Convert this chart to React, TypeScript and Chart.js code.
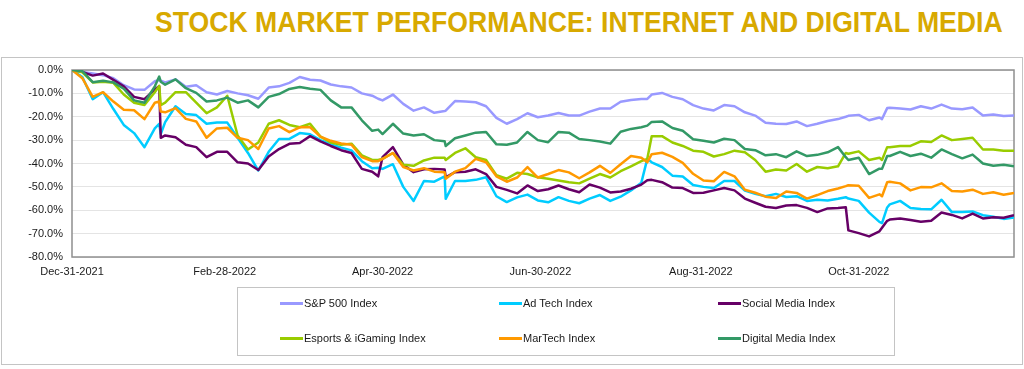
import React, { useEffect, useLayoutEffect, useRef } from "react";
import { Chart, registerables } from "chart.js";

Chart.register(...registerables);

const TITLE = "STOCK MARKET PERFORMANCE: INTERNET AND DIGITAL MEDIA";

// x values: days elapsed since Dec-31-2021
const days = [
  0, 4, 8, 12, 16, 20, 24, 28, 32, 33.7,
  34.3, 36, 40, 44, 48, 52, 56, 60, 64, 68,
  72, 76, 80, 84, 88, 92, 96, 100, 104, 108,
  112, 116, 118.3, 120, 124, 128, 132, 136, 140, 144,
  144.4, 148, 152, 156, 160, 164, 168, 172, 176, 180,
  184, 188, 192, 196, 200, 204, 208, 212, 216, 220,
  222.3, 224, 228, 232, 236, 240, 244, 248, 252, 256,
  260, 264, 268, 272, 276, 280, 284, 288, 292, 296,
  299, 300, 304, 308, 312, 313, 315, 316, 320, 324,
  328, 332, 336, 340, 344, 348, 352, 356, 360, 364,
];

const tickDays = [0, 59, 120, 181, 243, 304];
const tickLabels = ["Dec-31-2021", "Feb-28-2022", "Apr-30-2022", "Jun-30-2022", "Aug-31-2022", "Oct-31-2022"];

const seriesNames = [
  "S&P 500 Index",
  "Ad Tech Index",
  "Social Media Index",
  "Esports & iGaming Index",
  "MarTech Index",
  "Digital Media Index",
];
const seriesColors = ["#9999ff", "#00ccff", "#660066", "#99cc00", "#ff9900", "#339966"];

const sp500 = [
  0, -0.8, -1.5, -2.2, -3.5, -6.5, -8.3, -8.5, -4.8, -4.3,
  -4.6, -5.3, -4, -7.2, -6.5, -9.5, -10.5, -9, -10, -10.8,
  -12.3, -7.5, -7, -5.5, -3, -4.2, -4.5, -6.2, -7, -7.5,
  -10, -11, -12.3, -13, -10.5, -14.5, -17.4, -16, -18.3, -17.5,
  -17.4, -13.3, -13.5, -13.8, -15.5, -20.5, -23, -21, -18.5, -20.2,
  -19.5, -18.4, -19.5, -19.5, -17.8, -16.5, -16.5, -13.6, -12.8, -12.4,
  -12.4, -10.5, -9.8, -11.5, -12.5, -15, -16.5, -17.3, -15, -15.5,
  -18.1, -19.5, -22.6, -23, -23.1, -22, -24, -23, -21.8, -21,
  -20, -19.6, -19.2, -21.5, -20.3, -21, -16.3, -16.2, -16.5, -16.9,
  -15.5, -16.5, -14.8, -16.5, -16.8, -16, -19.5, -19, -19.7, -19.5,
];

const adTech = [
  0, -3, -12.5, -9.5, -16.7, -23.5, -27, -33, -25, -23,
  -27.4, -22.3, -15.5, -18.8, -19.3, -23, -22.5, -22.5, -29, -35.5,
  -43, -35, -29.5, -29.5, -27, -27.5, -30, -31.7, -33.2, -34.4,
  -39, -42, -41.8, -42.3, -40.3, -50, -56, -47.5, -47.8, -45.5,
  -55.1, -47.5, -47.5, -47, -45.9, -54, -56.5, -54.5, -53.3, -55.8,
  -56.6, -54.4, -56, -57, -55, -53.5, -56, -54.2, -51.5, -48.2,
  -38, -39.5, -41.5, -45.2, -45.6, -49.2, -50, -50.5, -47.5, -47.5,
  -51.6, -53, -54, -53, -54.3, -54, -56, -55.5, -55.8, -55.1,
  -54.4, -55, -56, -61, -65, -65.5, -58.8, -57.5, -56, -59,
  -59.5, -59.6, -55.5, -60.8, -60.8, -60.5, -62.1, -62.8, -63.7, -63.1,
];

const socialMedia = [
  0, -0.8, -2.4, -1.5, -4.2, -7, -11.5, -12.5, -8.3, -7,
  -29, -28, -28.8, -32, -33, -37.3, -35, -35, -39.5, -40,
  -42.8, -37, -33.8, -31.6, -31.2, -28.3, -30.5, -32.5, -34.3, -35.5,
  -42.3, -43.5, -45.5, -37.3, -33, -40.5, -43.7, -42.5, -42.3, -42.6,
  -45.9, -43.7, -43.5, -42.5, -44.5, -50, -51.3, -52.8, -49.4, -51.8,
  -51, -49.4, -51, -52.3, -49, -50.3, -52.4, -52, -50.8, -49,
  -47.2, -47, -48, -50.3, -50.5, -52.6, -52.5, -51.5, -50.5, -51.5,
  -55, -56.8, -58.5, -59, -58, -57.8, -59, -60.8, -59.2, -59,
  -58.7, -68.6, -69.8, -71.2, -69, -67.5, -64.5, -64, -63.5, -64.2,
  -64.9, -64.5, -61, -62, -63.5, -61.4, -63.5, -63, -63.2, -62.1,
];

const esports = [
  0, -1, -5.3, -5, -5.5, -10.5, -14, -15, -9.5, -6.8,
  -15, -14, -9.5, -9.5, -14, -18.5, -16, -11, -28, -34,
  -31, -23, -21.5, -23.5, -24.5, -23, -28.5, -31, -32, -31.5,
  -36.5, -38.5, -38.5, -38, -35.5, -40.5, -41, -38.7, -37.5, -37.5,
  -38.5, -35.5, -33.5, -37.3, -38.5, -45, -46.5, -44, -44.5, -45.9,
  -46.5, -47.3, -48, -48.5, -46.5, -44.5, -46, -43.3, -41.2, -39,
  -38, -28.3, -28.3, -31, -32.5, -34.5, -35, -37, -36, -34.5,
  -35.2, -38.5, -43.5, -42.6, -43, -40.2, -43.5, -41.5, -42, -41.2,
  -35.5, -35.8, -34.8, -38.5, -37.5, -38.5, -33, -33, -32.5, -32.5,
  -30.5, -30.8, -28, -30, -29.5, -29, -34, -34, -34.5, -34.5,
];

const marTech = [
  0, -3.5, -11.5, -9.5, -13.5, -17, -17.2, -21, -14, -13.5,
  -17.8, -18.1, -16.3, -20.9, -22, -29, -25, -24.7, -29, -30,
  -33.8, -25, -24, -26.6, -24.5, -24.5, -28.5, -30.3, -31.4, -32,
  -37.3, -39, -39, -38, -35.5, -41.5, -43, -42, -43.5, -43.7,
  -46.5, -43.5, -42, -38, -39.5, -45.5, -47.8, -46, -41.5, -46,
  -44.5, -42.8, -43.8, -46.3, -43.8, -41, -44, -40.3, -36.8, -37.5,
  -39.5, -36, -35.4, -37.2, -39.7, -44.4, -47.3, -47.6, -43.6, -45.5,
  -51.2, -52.5, -54.2, -54.8, -52, -52.6, -55, -53.5, -51.8, -50.7,
  -49.7, -49.3, -49.5, -54.7, -53.2, -54, -48, -47.8, -48.5, -51.5,
  -50.1, -50.2, -48.5, -51.8, -52, -51.2, -53, -52.3, -53.4, -52.6,
];

const digitalMedia = [
  0, -0.5, -5.2, -4.6, -5.3, -8, -13, -14, -7, -2.8,
  -5, -6.3, -4, -7.8, -9.8, -13.5, -13, -11.8, -14, -13,
  -16, -11.5, -10.3, -8.1, -7.3, -8, -8.5, -13, -16, -16,
  -21.5, -26, -25.5, -27.4, -23, -27.2, -28, -27.5, -30, -30.5,
  -32.5, -29.2, -28, -26.8, -26.5, -31.8, -32, -31, -26.5, -30,
  -30.9, -26.5, -26.8, -29.5, -30, -30.6, -31.5, -26.4, -25.2, -24.5,
  -23.8, -22.2, -22, -24.8, -26, -29.6, -30.3, -31, -29.4, -30,
  -33.8, -34.3, -36.5, -36, -37.3, -34.8, -36.8, -36.3, -35.2, -33,
  -37.3, -38.5, -37.5, -44.5, -42.2, -42.3, -36.8, -36.8, -35, -36.8,
  -35.8, -37.5, -34, -36, -37.8, -36.2, -40, -41, -40.5, -41.2,
];

const FONT = "'Liberation Sans', Arial, Helvetica, sans-serif";

const framePlugin = {
  id: "plotFrame",
  beforeDatasetsDraw(chart: any) {
    const { ctx, chartArea: a } = chart;
    ctx.save();
    ctx.strokeStyle = "#8f8f8f";
    ctx.lineWidth = 1.5;
    ctx.strokeRect(a.left, a.top, a.right - a.left, a.bottom - a.top);
    ctx.restore();
  },
};

export default function App() {
  const canvasRef = useRef<HTMLCanvasElement>(null);
  const titleRef = useRef<HTMLSpanElement>(null);

  useLayoutEffect(() => {
    document.body.style.margin = "0";
    const el = titleRef.current;
    if (el) {
      el.style.transform = "none";
      const w = el.offsetWidth;
      if (w > 0) el.style.transform = `scaleX(${848 / w})`;
    }
  }, []);

  useEffect(() => {
    const series = [sp500, adTech, socialMedia, esports, marTech, digitalMedia];
    const chart = new Chart(canvasRef.current as HTMLCanvasElement, {
      type: "line",
      data: {
        datasets: series.map((vals, i) => ({
          label: seriesNames[i],
          data: vals.map((v, j) => ({ x: days[j], y: v })),
          borderColor: seriesColors[i],
          backgroundColor: seriesColors[i],
          borderWidth: 2.5,
          pointRadius: 0,
          tension: 0,
          borderJoinStyle: "round" as const,
          order: series.length - i,
        })),
      },
      options: {
        animation: false,
        responsive: false,
        maintainAspectRatio: false,
        layout: { padding: { top: 70, right: 10, left: 0, bottom: 0 } },
        plugins: {
          legend: { display: false },
          tooltip: { enabled: false },
          title: { display: false },
        },
        scales: {
          x: {
            type: "linear",
            min: 0,
            max: 364,
            afterBuildTicks: (s: any) => {
              s.ticks = tickDays.map((v) => ({ value: v }));
            },
            afterFit: (s: any) => {
              s.height = 112;
            },
            ticks: {
              autoSkip: false,
              maxRotation: 0,
              padding: 8,
              color: "#1a1a1a",
              font: { family: FONT, size: 11 },
              callback: (v: any) => {
                const k = tickDays.indexOf(Number(v));
                return k >= 0 ? tickLabels[k] : "";
              },
            },
            grid: { display: false, drawTicks: false },
            border: { display: false },
          },
          y: {
            type: "linear",
            min: -80,
            max: 0,
            afterFit: (s: any) => {
              s.width = 72;
            },
            ticks: {
              stepSize: 10,
              padding: 9,
              color: "#1a1a1a",
              font: { family: FONT, size: 11 },
              callback: (v: any) => Number(v).toFixed(1) + "%",
            },
            grid: { color: "#e4e4e4", lineWidth: 1, drawTicks: false },
            border: { display: false },
          },
        },
      },
      plugins: [framePlugin],
    });
    return () => chart.destroy();
  }, []);

  const legendCols = [280, 499, 718];
  const legendRows = [303, 338];

  return (
    <div style={{ position: "relative", width: 1024, height: 369, background: "#fff", overflow: "hidden" }}>
      <div
        style={{
          position: "absolute",
          right: 21,
          top: 8,
          whiteSpace: "nowrap",
          lineHeight: "29px",
        }}
      >
        <span
          ref={titleRef}
          style={{
            display: "inline-block",
            transformOrigin: "right center",
            fontFamily: "'Liberation Sans Narrow', 'Liberation Sans', Arial, sans-serif",
            fontWeight: 700,
            fontSize: 29,
            color: "#d8a900",
          }}
        >
          {TITLE}
        </span>
      </div>
      <div
        style={{
          position: "absolute",
          left: 1,
          top: 57,
          width: 1020,
          height: 306,
          border: "1px solid #c4c4c4",
        }}
      />
      <canvas
        ref={canvasRef}
        width={1024}
        height={369}
        style={{ position: "absolute", left: 0, top: 0, width: 1024, height: 369 }}
      />
      <div
        style={{
          position: "absolute",
          left: 237,
          top: 287,
          width: 656,
          height: 67,
          border: "1px solid #c4c4c4",
        }}
      />
      {seriesNames.map((name, i) => {
        const col = i % 3;
        const row = Math.floor(i / 3);
        const x = legendCols[col];
        const y = legendRows[row];
        return (
          <div
            key={name}
            style={{
              position: "absolute",
              left: x,
              top: y - 8,
              height: 16,
              display: "flex",
              alignItems: "center",
              whiteSpace: "nowrap",
              fontFamily: FONT,
              fontSize: 11,
              color: "#1a1a1a",
            }}
          >
            <span style={{ display: "inline-block", width: 23, height: 3, background: seriesColors[i] }} />
            <span style={{ marginLeft: 1 }}>{name}</span>
          </div>
        );
      })}
    </div>
  );
}
